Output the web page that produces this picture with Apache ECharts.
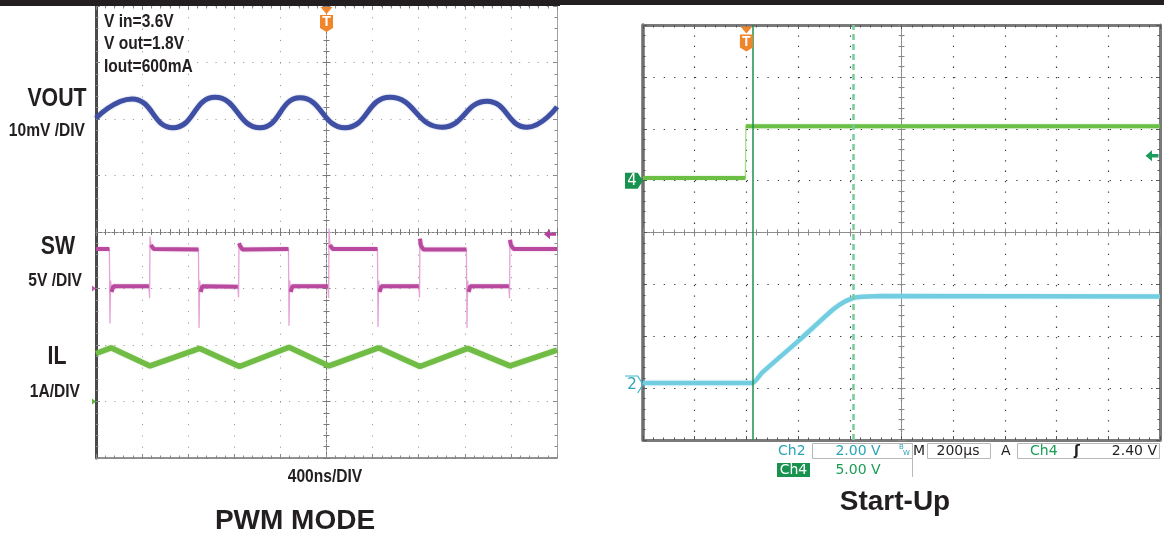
<!DOCTYPE html>
<html>
<head>
<meta charset="utf-8">
<title>PWM Mode and Start-Up</title>
<script src="https://cdn.jsdelivr.net/npm/echarts@6/dist/echarts.min.js"></script>
<style>
  html, body { margin: 0; padding: 0; background: #ffffff; }
  #chart { width: 1164px; height: 535px; }
</style>
</head>
<body>
<div id="chart"></div>
<script>
// ===== PWM MODE capture: 400 ns/div, trigger at t = 0 =====
const pwmTimeRangeNs = [-2000, 2000];

// Output voltage ripple, AC coupled (mV)
const voutTimeNs = [-2000, -1688, -1332, -967, -577, -230, 161, 551, 1002, 1393, 1740, 2000];
const voutMv     = [-1.0, 2.4, -2.7, 2.7, -2.7, 2.6, -2.7, 2.7, -2.6, 2.0, -2.6, 1.0];

// Switch node (V): plateaus with the spikes at every edge
const swTimeNs = [
  -2000,
  -1884, -1879, -1873, -1865, -1850,
  -1541, -1535, -1531, -1523, -1500,
  -1111, -1106, -1100, -1092, -1077,
  -769, -763, -759, -751, -728,
  -330, -325, -319, -311, -296,
  12, 18, 22, 30, 53,
  442, 447, 453, 461, 476,
  801, 807, 811, 819, 842,
  1214, 1219, 1225, 1233, 1248,
  1582, 1588, 1592, 1600, 1623,
  2000
];
const swVolts = [
  3.5,
  3.5, -3.1, 0.7, -0.3, 0.2,
  0.2, -0.85, 4.6, 3.85, 3.5,
  3.45, -3.5, 0.7, -0.3, 0.2,
  0.15, -0.8, 4.0, 3.8, 3.45,
  3.5, -3.3, 0.7, -0.3, 0.2,
  0.2, -0.85, 5.3, 3.85, 3.5,
  3.5, -3.4, 0.7, -0.3, 0.2,
  0.2, -0.8, 4.4, 3.8, 3.45,
  3.45, -3.5, 0.7, -0.3, 0.2,
  0.2, -0.85, 4.3, 3.85, 3.5,
  3.5
];

// Inductor current (A)
const ilTimeNs = [-2000, -1870, -1531, -1100, -755, -325, 22, 450, 811, 1225, 1592, 2000];
const ilAmps   = [0.85, 0.95, 0.63, 0.94, 0.62, 0.96, 0.63, 0.95, 0.62, 0.94, 0.63, 0.91];

// Channel scales: units per division and ground level in divisions above centre
const voutChannel = { perDiv: 10, zeroDiv: 2.115 };
const swChannel   = { perDiv: 5,  zeroDiv: -1 };
const ilChannel   = { perDiv: 1,  zeroDiv: -3 };
const swTriggerV  = 4.8;

// ===== Start-Up capture: 200 us/div =====
const startTimeRangeUs = [-400, 1600];
const ch4TimeUs = [-400, -4, -2, 1600];
const ch4Volts  = [0.25, 0.25, 5.25, 5.25];
const ch2TimeUs = [-400, 25, 60, 207, 335, 381, 420, 517, 1600];
const ch2Volts  = [0.06, 0.06, 0.45, 1.73, 2.89, 3.2, 3.35, 3.41, 3.39];
const ch2Channel = { perDiv: 2, zeroDiv: -2.93 };
const ch4Channel = { perDiv: 5, zeroDiv: 1.0 };
const cursorUs = [25, 414];
const ch4TriggerV = 2.4;

// ---------------------------------------------------------------
const INK = '#231f20';
const SANS = '"Liberation Sans", Arial, Helvetica, sans-serif';
const UI = '"DejaVu Sans", Verdana, sans-serif';
const ORANGE = '#f0862c';
const CYAN_TXT = '#2aa5b5';
const GREEN_TXT = '#1a9e55';

const zip = (a, b) => a.map((v, i) => [v, b[i]]);

// Thick trace for the settled parts only; fast edges stay as a thin line
function breakSteep(points, maxSlope) {
  const out = [points[0]];
  for (let i = 1; i < points.length; i++) {
    const [t0, v0] = points[i - 1];
    const [t1, v1] = points[i];
    if (Math.abs(v1 - v0) / (t1 - t0) > maxSlope) out.push([(t0 + t1) / 2, '-']);
    out.push(points[i]);
  }
  return out;
}

const grids = [
  { left: 96, top: 6, width: 461, height: 452, outerBoundsMode: 'none' },
  { left: 643, top: 25, width: 517, height: 415, outerBoundsMode: 'none' }
];

const xAxes = [], yAxes = [];
const addX = c => (xAxes.push(c), xAxes.length - 1);
const addY = c => (yAxes.push(c), yAxes.length - 1);

function divAxis(gridIndex, extra) {
  return Object.assign({
    gridIndex, type: 'value', interval: 1, silent: true,
    axisLabel: { show: false }, splitLine: { show: false },
    axisTick: { show: false }, minorTick: { show: false },
    axisLine: { show: false, onZero: false }, axisPointer: { show: false }
  }, extra);
}

// Graticule: border, division dots, centre cross with minor ticks
function buildFrame(g, s) {
  const tick = { show: true, inside: true, length: 4, lineStyle: { color: s.tick, width: 1 } };
  const minor = { show: true, splitNumber: 5, length: 2.5, lineStyle: { color: s.tick, width: 1 } };
  const xb = addX(divAxis(g, { min: -5, max: 5, position: 'bottom',
    axisLine: { show: true, onZero: false, lineStyle: s.bottom },
    axisTick: tick, minorTick: minor,
    splitLine: { show: true, lineStyle: { color: s.dot, width: s.dotWidth, type: s.dashV } } }));
  addX(divAxis(g, { min: -5, max: 5, position: 'top',
    axisLine: { show: !!s.top, onZero: false, lineStyle: s.top || {} },
    axisTick: tick, minorTick: minor }));
  const yl = addY(divAxis(g, { min: -4, max: 4, position: 'left',
    axisLine: { show: true, onZero: false, lineStyle: s.left },
    axisTick: tick, minorTick: minor,
    splitLine: { show: true, lineStyle: { color: s.dot, width: s.dotWidth, type: s.dashH } } }));
  addY(divAxis(g, { min: -4, max: 4, position: 'right',
    axisLine: { show: true, onZero: false, lineStyle: s.right },
    axisTick: tick, minorTick: minor }));
  const cLine = { color: s.centre, width: 1, type: s.centreDash };
  const cTick = { color: s.centre, width: 1 };
  [false, true].forEach(inside => {
    addX(divAxis(g, { min: -5, max: 5, position: 'bottom',
      axisLine: { show: true, onZero: true, onZeroAxisIndex: yl, lineStyle: cLine },
      axisTick: { show: true, inside, length: 4, lineStyle: cTick },
      minorTick: { show: true, splitNumber: 5, length: 3, lineStyle: cTick } }));
    addY(divAxis(g, { min: -4, max: 4, position: 'left',
      axisLine: { show: true, onZero: true, onZeroAxisIndex: xb, lineStyle: cLine },
      axisTick: { show: true, inside, length: 4, lineStyle: cTick },
      minorTick: { show: true, splitNumber: 5, length: 3, lineStyle: cTick } }));
  });
}

const channelAxis = (g, ch) => addY({ gridIndex: g, type: 'value', show: false,
  min: (-4 - ch.zeroDiv) * ch.perDiv, max: (4 - ch.zeroDiv) * ch.perDiv,
  axisLine: { onZero: false } });
const timeAxis = (g, range) => addX({ gridIndex: g, type: 'value', show: false,
  min: range[0], max: range[1], axisLine: { onZero: false } });

buildFrame(0, {
  tick: '#8a8a8a', dot: '#8c8c8c', dotWidth: 1, dashV: [1, 10.3], dashH: [1, 8.2],
  bottom: { color: '#6e6e6e', width: 1.5 }, top: null,
  left: { color: '#4a4a4a', width: 3 }, right: { color: '#a0a0a0', width: 1 },
  centre: '#7a7a7a', centreDash: [2, 2]
});
buildFrame(1, {
  tick: '#555555', dot: '#3a3a3a', dotWidth: 1.2, dashV: [1.3, 9.1], dashH: [1.3, 9.07],
  bottom: { color: '#7a7a7a', width: 3 }, top: { color: '#7a7a7a', width: 3 },
  left: { color: '#6e6e6e', width: 3.5 }, right: { color: '#7a7a7a', width: 3 },
  centre: '#8a8a8a', centreDash: [3, 1]
});

const tL = timeAxis(0, pwmTimeRangeNs);
const yVout = channelAxis(0, voutChannel);
const ySw = channelAxis(0, swChannel);
const yIl = channelAxis(0, ilChannel);
const tR = timeAxis(1, startTimeRangeUs);
const yCh2 = channelAxis(1, ch2Channel);
const yCh4 = channelAxis(1, ch4Channel);

const topOf = ch => (4 - ch.zeroDiv) * ch.perDiv;

function triggerMarks(coord, dy) {
  return [
    { coord, symbol: 'path://M0,0 L10,0 L5,6 Z', symbolSize: [12, 7], symbolOffset: [0, dy],
      itemStyle: { color: ORANGE }, label: { show: false } },
    { coord, symbol: 'path://M0,0 H12 V13 L6,17 L0,13 Z', symbolSize: [13, 17], symbolOffset: [0, dy + 13],
      itemStyle: { color: ORANGE },
      label: { show: true, formatter: 'T', color: '#ffffff', fontWeight: 'bold', fontSize: 14,
               fontFamily: SANS, offset: [0, -1] } }
  ];
}
const ARROW_LEFT = 'path://M0,5 L6,0 L6,3.5 L12,3.5 L12,6.5 L6,6.5 L6,10 Z';
const GROUND_TICK = 'path://M0,0 L5,4 L0,8 Z';

const swPoints = zip(swTimeNs, swVolts);
const ch4Points = zip(ch4TimeUs, ch4Volts);

const series = [
  { // VOUT ripple
    type: 'line', xAxisIndex: tL, yAxisIndex: yVout, data: zip(voutTimeNs, voutMv),
    smooth: 0.5, showSymbol: false, symbol: 'none', z: 3,
    lineStyle: { color: '#3f4fa3', width: 5, shadowBlur: 2, shadowColor: 'rgba(63,79,163,0.4)' },
    markPoint: { silent: true, animation: false,
      data: triggerMarks([0, topOf(voutChannel)], 4.5) }
  },
  { // SW edges (thin)
    type: 'line', xAxisIndex: tL, yAxisIndex: ySw, data: swPoints,
    showSymbol: false, symbol: 'none', z: 2,
    lineStyle: { color: '#e6a3d7', width: 1.3 }
  },
  { // SW plateaus (thick)
    type: 'line', xAxisIndex: tL, yAxisIndex: ySw, data: breakSteep(swPoints, 0.08),
    showSymbol: false, symbol: 'none', connectNulls: false, z: 3,
    lineStyle: { color: '#b8499f', width: 4, shadowBlur: 2, shadowColor: 'rgba(184,73,159,0.4)' },
    markPoint: { silent: true, animation: false, data: [
      { coord: [pwmTimeRangeNs[0], 0], symbol: GROUND_TICK, symbolSize: [4, 6], symbolOffset: [-2, 0],
        itemStyle: { color: '#c45aa9' }, label: { show: false } },
      { coord: [pwmTimeRangeNs[1], swTriggerV], symbol: ARROW_LEFT, symbolSize: [12, 10], symbolOffset: [-7, 0],
        itemStyle: { color: '#b3429c' }, label: { show: false } }
    ] }
  },
  { // Inductor current
    type: 'line', xAxisIndex: tL, yAxisIndex: yIl, data: zip(ilTimeNs, ilAmps),
    showSymbol: false, symbol: 'none', z: 3,
    lineStyle: { color: '#70bc45', width: 5.5, shadowBlur: 2, shadowColor: 'rgba(111,187,68,0.4)' },
    markPoint: { silent: true, animation: false, data: [
      { coord: [pwmTimeRangeNs[0], 0], symbol: GROUND_TICK, symbolSize: [4, 6], symbolOffset: [-2, 0],
        itemStyle: { color: '#5cb83a' }, label: { show: false } }
    ] }
  },
  { // Ch4 step edge (thin)
    type: 'line', xAxisIndex: tR, yAxisIndex: yCh4, data: ch4Points,
    showSymbol: false, symbol: 'none', z: 2,
    lineStyle: { color: '#a8dc8c', width: 1.3 }
  },
  { // Ch4 levels (thick)
    type: 'line', xAxisIndex: tR, yAxisIndex: yCh4, data: breakSteep(ch4Points, 0.5),
    showSymbol: false, symbol: 'none', connectNulls: false, z: 3,
    lineStyle: { color: '#6cbf45', width: 4, shadowBlur: 2, shadowColor: 'rgba(108,191,69,0.4)' },
    markPoint: { silent: true, animation: false, data: [
      ...triggerMarks([0, topOf(ch4Channel)], 5),
      { coord: [startTimeRangeUs[0], 0], symbol: 'path://M0,0 H12 L17,8 L12,16 H0 Z',
        symbolSize: [18, 16], symbolOffset: [-9, 0], itemStyle: { color: '#17924f' },
        label: { show: true, formatter: '4', color: '#ffffff', fontSize: 15, fontFamily: UI, offset: [-2, 0] } },
      { coord: [startTimeRangeUs[1], ch4TriggerV], symbol: ARROW_LEFT, symbolSize: [13, 11], symbolOffset: [-8, 0],
        itemStyle: { color: '#1e9c5c' }, label: { show: false } }
    ] }
  },
  { // Ch2 output ramp
    type: 'line', xAxisIndex: tR, yAxisIndex: yCh2, data: zip(ch2TimeUs, ch2Volts),
    smooth: 0.15, showSymbol: false, symbol: 'none', z: 3,
    lineStyle: { color: '#72cde1', width: 4.5, shadowBlur: 2, shadowColor: 'rgba(114,205,225,0.4)' },
    markPoint: { silent: true, animation: false, data: [
      { coord: [startTimeRangeUs[0], 0], symbol: 'path://M0,0 H12 L17,8 L12,16',
        symbolSize: [18, 17], symbolOffset: [-9, 0],
        itemStyle: { color: 'rgba(0,0,0,0)', borderColor: '#3fb8cc', borderWidth: 1.2 },
        label: { show: true, formatter: '2', color: CYAN_TXT, fontSize: 15, fontFamily: UI, offset: [-2, 1] } }
    ] },
    markLine: { silent: true, animation: false, symbol: ['none', 'none'], label: { show: false },
      data: [
        { xAxis: cursorUs[0], lineStyle: { color: '#1d8f4d', width: 1.5, type: 'solid' } },
        { xAxis: cursorUs[1], lineStyle: { color: '#74cd9c', width: 2.5, type: [6, 4] } }
      ] }
  }
];

// ---- text and readouts ----
function txt(text, x, y, size, o = {}) {
  return {
    type: 'text', x, y, scaleX: o.scaleX == null ? 1 : o.scaleX, silent: true, z: 100,
    style: { text, fill: o.color || INK,
      font: `${o.weight || 'normal'} ${size}px ${o.family || SANS}`,
      align: o.align || 'left', verticalAlign: 'middle' }
  };
}
const narrow = (text, x, y, size, align) => txt(text, x, y, size, { scaleX: 0.82, weight: 'bold', align });
const box = (x, y, w, h) => ({ type: 'rect', z: 90, silent: true,
  shape: { x, y, width: w, height: h }, style: { fill: '#ffffff', stroke: '#b8b8b8', lineWidth: 1 } });

const graphic = [
  { type: 'rect', z: 100, silent: true, shape: { x: 0, y: 0, width: 560, height: 6 }, style: { fill: INK } },
  { type: 'rect', z: 100, silent: true, shape: { x: 560, y: 0, width: 604, height: 5 }, style: { fill: INK } },
  narrow('V in=3.6V', 104, 22, 19, 'left'),
  narrow('V out=1.8V', 104, 44, 19, 'left'),
  narrow('Iout=600mA', 104, 67, 19, 'left'),
  narrow('VOUT', 57, 99, 26, 'center'),
  narrow('10mV /DIV', 85, 131, 19, 'right'),
  narrow('SW', 58, 247, 26, 'center'),
  narrow('5V /DIV', 82, 281, 19, 'right'),
  narrow('IL', 57, 357, 26, 'center'),
  narrow('1A/DIV', 80, 392, 19, 'right'),
  narrow('400ns/DIV', 325, 477, 19, 'center'),
  txt('PWM MODE', 295, 521, 28, { weight: 'bold', align: 'center' }),
  txt('Start-Up', 895, 502, 28, { weight: 'bold', align: 'center' }),

  box(812.5, 443.5, 100, 15),
  { type: 'polyline', z: 90, silent: true, shape: { points: [[912.5, 458.5], [912.5, 477]] },
    style: { stroke: '#b8b8b8', lineWidth: 1 } },
  box(927.5, 443.5, 63, 15),
  box(1017.5, 443.5, 142, 15),
  txt('Ch2', 778, 451, 14, { family: UI, color: CYAN_TXT }),
  txt('2.00 V', 858, 451, 14, { family: UI, color: CYAN_TXT, align: 'center' }),
  txt('B', 899, 447, 7, { family: UI, color: CYAN_TXT }),
  txt('W', 903, 453, 7, { family: UI, color: CYAN_TXT }),
  txt('M', 913, 451, 14, { family: UI }),
  txt('200µs', 958, 451, 14, { family: UI, align: 'center' }),
  txt('A', 1001, 451, 14, { family: UI }),
  txt('Ch4', 1030, 451, 14, { family: UI, color: GREEN_TXT }),
  txt('ʃ', 1077, 451, 14, { family: UI, align: 'center', weight: 'bold' }),
  txt('2.40 V', 1157, 451, 14, { family: UI, align: 'right' }),
  { type: 'rect', z: 95, silent: true, shape: { x: 777, y: 463, width: 33, height: 14 }, style: { fill: '#17924f' } },
  txt('Ch4', 793.5, 470, 14, { family: UI, color: '#ffffff', align: 'center' }),
  txt('5.00 V', 858, 470, 14, { family: UI, color: GREEN_TXT, align: 'center' })
];

const chart = echarts.init(document.getElementById('chart'), null, { renderer: 'canvas' });
chart.setOption({
  backgroundColor: '#ffffff',
  animation: false,
  grid: grids,
  xAxis: xAxes,
  yAxis: yAxes,
  series,
  graphic
});
</script>
</body>
</html>
